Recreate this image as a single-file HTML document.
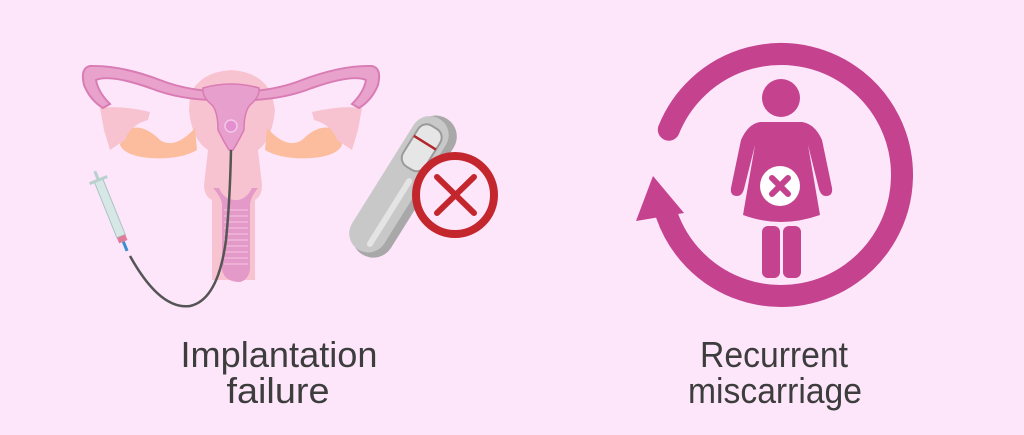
<!DOCTYPE html>
<html><head><meta charset="utf-8"><style>
html,body{margin:0;padding:0;background:#fde6fa;}
svg{display:block;}
</style></head><body>
<svg width="1024" height="435" viewBox="0 0 1024 435" xmlns="http://www.w3.org/2000/svg">
<rect width="1024" height="435" fill="#fde6fa"/>
<!-- uterus body -->
<path d="M190,95 Q200,72 231,70 Q262,72 272,95 L275,110 Q272,140 258,150 L262,185 Q262,196 255,200 L255,280 L212,280 L212,200 Q204,196 204,185 L208,150 Q192,140 189,110 Z" fill="#f8c3d0"/>
<!-- ovaries orange -->
<path d="M122,132 Q140,120 160,140 Q175,150 195,128 L197,150 Q180,160 150,158 Q125,156 120,145 Z" fill="#fbbd9d"/>
<path d="M340,132 Q322,120 302,140 Q287,150 267,128 L265,150 Q282,160 312,158 Q337,156 342,145 Z" fill="#fbbd9d"/>
<!-- fimbria light -->
<path d="M100,108 Q120,105 150,112 L148,120 Q130,125 125,140 L110,150 L104,130 Z" fill="#f8c3d0"/>
<path d="M362,108 Q342,105 312,112 L314,120 Q332,125 337,140 L352,150 L358,130 Z" fill="#f8c3d0"/>
<!-- tubes -->
<path d="M231,92 Q190,92 160,80 Q120,65 90,66 Q80,68 84,85 Q90,100 103,108 L110,104 Q98,92 96,80 Q110,74 150,88 Q185,102 231,100 Q277,102 312,88 Q352,74 366,80 Q364,92 352,104 L359,108 Q372,100 378,85 Q382,68 372,66 Q342,65 302,80 Q272,92 231,92 Z" fill="#e8a2cc" stroke="#d97cb4" stroke-width="2"/>
<!-- cavity -->
<path d="M203,88 Q231,80 259,88 Q260,97 250,105 Q244,112 244,130 Q238,142 233,150 L229,150 Q224,142 218,130 Q218,112 212,105 Q202,97 203,88 Z" fill="#e7a0cd" stroke="#d97cb4" stroke-width="1.5"/>
<circle cx="231" cy="126" r="6" fill="#e48fd0" stroke="#f3c8e8" stroke-width="1.5"/>
<!-- vagina -->
<path d="M213,188 Q222,198 222,205 L222,270 Q225,282 240,282 Q248,280 250,270 L250,205 Q250,198 258,188 L252,188 Q246,200 236,200 Q224,200 219,188 Z" fill="#e49ac8"/>
<g stroke="#f4bcdc" stroke-width="1.2">
<line x1="224" y1="210" x2="248" y2="210"/><line x1="224" y1="216" x2="248" y2="216"/><line x1="224" y1="222" x2="248" y2="222"/><line x1="224" y1="228" x2="248" y2="228"/><line x1="224" y1="234" x2="248" y2="234"/><line x1="224" y1="240" x2="248" y2="240"/><line x1="224" y1="246" x2="248" y2="246"/><line x1="224" y1="252" x2="248" y2="252"/><line x1="224" y1="258" x2="248" y2="258"/><line x1="224" y1="264" x2="248" y2="264"/>
</g>
<!-- catheter -->
<path d="M130,256 Q160,310 190,306 Q218,300 226,240 Q230,200 231,150" fill="none" stroke="#555" stroke-width="2.5"/>
<!-- syringe -->
<g transform="rotate(-22 112 215)">
<rect x="108" y="178" width="9" height="60" fill="#d7e7e6" stroke="#a8c4c2" stroke-width="1"/>
<rect x="103" y="176" width="19" height="3" fill="#b8d0ce"/>
<rect x="111" y="168" width="3" height="10" fill="#b8d0ce"/>
<rect x="108" y="238" width="9" height="6" fill="#e07b9a"/>
<rect x="111" y="244" width="3" height="10" fill="#3a8ed0"/>
</g>
<!-- test stick -->
<g transform="rotate(-58 402 185)">
<rect x="322" y="167" width="160" height="42" rx="21" fill="#a8a8a8"/>
<rect x="324" y="163" width="154" height="38" rx="19" fill="#c8c8c8"/>
<rect x="332" y="186" width="80" height="6" rx="3" fill="#e4e4e4"/>
<rect x="420" y="169" width="48" height="26" rx="10" fill="#e6e6e6" stroke="#9a9a9a" stroke-width="2"/>
<line x1="450" y1="169" x2="450" y2="195" stroke="#b3262c" stroke-width="2.5"/>
</g>
<circle cx="455" cy="195" r="39" fill="#fde6fa" stroke="#c4262e" stroke-width="8"/>
<line x1="437" y1="177" x2="474" y2="213" stroke="#c4262e" stroke-width="6" stroke-linecap="round"/>
<line x1="474" y1="177" x2="437" y2="213" stroke="#c4262e" stroke-width="6" stroke-linecap="round"/>
<!-- recurrent circle -->
<path d="M666.6,214.4 A121,121 0 1 0 668.8,129.7" fill="none" stroke="#c4428e" stroke-width="22" stroke-linecap="round"/>
<path d="M653,176 L636,221 L684,213 Z" fill="#c4428e"/>
<!-- figure -->
<circle cx="781" cy="98" r="19" fill="#c4428e"/>
<path d="M760,122 L802,122 Q815,124 822,140 L832,188 Q833,196 826,196 Q821,196 819,189 L808,145 L820,215 Q800,222 781,222 Q762,222 743,215 L755,145 L744,189 Q742,196 737,196 Q730,196 731,188 L741,140 Q748,124 760,122 Z" fill="#c4428e"/>
<rect x="762" y="226" width="18" height="52" rx="6" fill="#c4428e"/>
<rect x="783" y="226" width="18" height="52" rx="6" fill="#c4428e"/>
<circle cx="780" cy="186" r="20" fill="#fff"/>
<line x1="772" y1="178" x2="788" y2="194" stroke="#c4428e" stroke-width="6" stroke-linecap="round"/>
<line x1="788" y1="178" x2="772" y2="194" stroke="#c4428e" stroke-width="6" stroke-linecap="round"/>
<!-- labels -->
<g font-family="Liberation Sans Narrow, Liberation Sans, sans-serif" font-size="36" fill="#3d3d3d" text-anchor="middle">
<text x="279" y="367" textLength="197" lengthAdjust="spacingAndGlyphs">Implantation</text>
<text x="278" y="403" textLength="103" lengthAdjust="spacingAndGlyphs">failure</text>
<text x="774" y="367" textLength="148" lengthAdjust="spacingAndGlyphs">Recurrent</text>
<text x="775" y="403" textLength="174" lengthAdjust="spacingAndGlyphs">miscarriage</text>
</g>
</svg>
</body></html>
